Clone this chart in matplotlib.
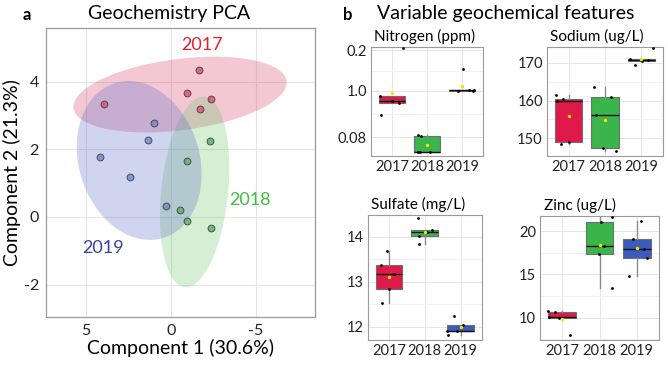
import matplotlib

matplotlib.use("Agg")
import matplotlib.pyplot as plt
import numpy as np

plt.rcParams["font.family"] = ["Lato", "DejaVu Sans"]
plt.rcParams["axes.unicode_minus"] = False

# ---- panel a: PCA scores ----
years = ["2017", "2018", "2019"]
pc1_2017 = [-1.67, -0.92, -2.37, -1.73, 3.92]
pc2_2017 = [4.36, 3.68, 3.50, 3.20, 3.35]
pc1_2018 = [-2.29, -0.92, -0.55, -0.92, -2.33]
pc2_2018 = [2.26, 1.66, 0.21, -0.13, -0.32]
pc1_2019 = [1.02, 1.37, 4.20, 2.41, 0.31]
pc2_2019 = [2.77, 2.29, 1.78, 1.19, 0.31]

# ellipse: centre x, centre y, half-extent x, half-extent y, correlation
ell_2017 = [-0.53, 3.62, 6.27, 1.12, -0.32]
ell_2018 = [-1.39, 0.74, 2.04, 2.82, -0.25]
ell_2019 = [1.87, 1.67, 3.67, 2.35, 0.17]

label_pos_2017 = [-1.8, 5.08]
label_pos_2018 = [-4.65, 0.5]
label_pos_2019 = [4.0, -0.93]

# ---- panel b: per-year measurements (5 samples each) ----
nitrogen_2017 = [0.886, 0.786, 0.743, 0.479, 1.92]
nitrogen_2018 = [0.057, 0.029, -0.307, -0.314, -0.307]
nitrogen_2019 = [0.993, 1.014, 1.0, 1.014, 1.479]
nitrogen_ticks = [0.0, 1.0, 1.871]
nitrogen_ticklabels = ["0.08", "1.0", "0.2"]

sodium_2017 = [161.6, 160.3, 159.9, 148.5, 149.1]
sodium_2018 = [163.6, 160.9, 156.2, 147.3, 146.5]
sodium_2019 = [170.9, 169.4, 170.4, 174.0, 170.8]

sulfate_2017 = [13.67, 13.36, 13.17, 12.83, 12.53]
sulfate_2018 = [14.41, 14.01, 14.11, 14.15, 13.84]
sulfate_2019 = [12.24, 12.04, 11.91, 11.91, 11.81]

zinc_2017 = [10.70, 10.62, 9.96, 10.04, 7.98]
zinc_2018 = [21.63, 21.05, 18.26, 17.36, 13.41]
zinc_2019 = [19.03, 21.16, 17.98, 16.94, 14.84]

# horizontal jitter of the sample dots (category units)
nitrogen_jit = [[-0.33, 0.0, 0.2, -0.31, 0.31], [-0.27, -0.17, -0.27, -0.21, 0.08], [-0.12, 0.19, 0.31, 0.35, 0.03]]
sodium_jit = [[-0.36, -0.16, -0.32, -0.22, 0.0], [-0.30, 0.17, -0.26, -0.06, 0.29], [-0.32, -0.17, 0.02, 0.32, 0.18]]
sulfate_jit = [[-0.05, -0.23, 0.14, 0.01, -0.2], [-0.19, -0.17, 0.07, 0.21, -0.17], [-0.19, 0.07, -0.11, -0.38, -0.36]]
zinc_jit = [[-0.38, -0.2, -0.08, -0.35, 0.22], [0.33, 0.05, 0.13, -0.02, 0.34], [-0.09, 0.11, 0.2, 0.27, -0.2]]

ell_fill = {"2017": "#D43A62", "2018": "#69C669", "2019": "#5869C6"}
pt_fill = {"2017": "#D8557C", "2018": "#63AE6C", "2019": "#7C88CC"}
txt_col = {"2017": "#E3202E", "2018": "#3DBE3D", "2019": "#3B40A8"}
box_col = ["#E0194B", "#3AB54A", "#3B5BBF"]

W, H = 668, 370


def rect(x0, y0, x1, y1):
    return [x0 / W, 1 - y1 / H, (x1 - x0) / W, (y1 - y0) / H]


def ellipse_xy(cx, cy, sx, sy, rho):
    t = np.linspace(0, 2 * np.pi, 200)
    x = cx + sx * np.cos(t)
    y = cy + sy * (rho * np.cos(t) + np.sqrt(1 - rho ** 2) * np.sin(t))
    return x, y


fig = plt.figure(figsize=(W / 100, H / 100), dpi=100)

# ---------------- panel a ----------------
ax = fig.add_axes(rect(46, 28, 315, 317))
groups = [
    ("2017", pc1_2017, pc2_2017, ell_2017, label_pos_2017),
    ("2018", pc1_2018, pc2_2018, ell_2018, label_pos_2018),
    ("2019", pc1_2019, pc2_2019, ell_2019, label_pos_2019),
]
for yr, xs, ys, ell, lp in groups:
    ex, ey = ellipse_xy(*ell)
    ax.fill(ex, ey, color=ell_fill[yr], alpha=0.28, lw=0, zorder=1)
for yr, xs, ys, ell, lp in groups:
    ax.scatter(xs, ys, s=24, color=pt_fill[yr], edgecolor="#3a3a3a", linewidth=0.7, alpha=0.85, zorder=3)
    ax.text(lp[0], lp[1], yr, color=txt_col[yr], fontsize=13, ha="center", va="center", zorder=4)

ax.set_xlim(7.35, -8.47)
ax.set_ylim(-2.96, 5.59)
ax.set_xticks([5, 0, -5])
ax.set_yticks([-2, 0, 2, 4])
ax.grid(color="#E6E6E6", linewidth=0.8, zorder=0)
ax.set_axisbelow(True)
ax.tick_params(labelsize=11.5, length=0, pad=5, colors="#222222")
for sp in ax.spines.values():
    sp.set_color("#9A9A9A")
    sp.set_linewidth(0.9)
ax.set_xlabel("Component 1 (30.6%)", fontsize=14, labelpad=1)
ax.set_ylabel("Component 2 (21.3%)", fontsize=14, labelpad=2)

fig.text(27 / W, 1 - 15 / H, "a", fontsize=12, fontweight="bold", ha="center", va="center")
fig.text(169 / W, 1 - 14 / H, "Geochemistry PCA", fontsize=14, ha="center", va="center")
fig.text(348 / W, 1 - 15 / H, "b", fontsize=12, fontweight="bold", ha="center", va="center")
fig.text(377 / W, 1 - 14 / H, "Variable geochemical features", fontsize=14, ha="left", va="center")


# ---------------- panel b ----------------
def box_panel(r, title, data, jit, ylim, ticks, ticklabels=None, minor=None):
    bx = fig.add_axes(r)
    pos = [1, 2, 3]
    bp = bx.boxplot(data, positions=pos, widths=0.75, patch_artist=True, showfliers=False,
                    showcaps=False, whis=1.5,
                    medianprops=dict(color="#111111", linewidth=1.0),
                    whiskerprops=dict(color="#8A8A8A", linewidth=1.0),
                    boxprops=dict(edgecolor="#6E6E6E", linewidth=0.8))
    for patch, c in zip(bp["boxes"], box_col):
        patch.set_facecolor(c)
    for i, vals in enumerate(data):
        xs = [pos[i] + j for j in jit[i]]
        bx.scatter(xs, vals, s=4, color="black", zorder=4, linewidth=0)
        bx.scatter([pos[i]], [np.mean(vals)], s=6, color="#F4E400", zorder=5, linewidth=0)
    bx.set_xlim(0.4, 3.6)
    bx.set_ylim(*ylim)
    bx.set_xticks(pos)
    bx.set_xticklabels(years)
    bx.set_yticks(ticks)
    if ticklabels is not None:
        bx.set_yticklabels(ticklabels)
    if minor is not None:
        bx.set_yticks(minor, minor=True)
        bx.grid(axis="y", which="minor", color="#F0F0F0", linewidth=0.6)
    bx.grid(which="major", color="#E6E6E6", linewidth=0.7)
    bx.set_axisbelow(True)
    bx.tick_params(labelsize=10.5, length=0, pad=3, colors="#222222")
    bx.tick_params(axis="y", which="minor", length=0)
    for sp in bx.spines.values():
        sp.set_color("#9A9A9A")
        sp.set_linewidth(0.8)
    bx.set_title(title, loc="left", fontsize=11, pad=4, x=0.03)
    return bx


box_panel(rect(371, 47, 483, 156), "Nitrogen (ppm)",
          [nitrogen_2017, nitrogen_2018, nitrogen_2019], nitrogen_jit,
          (-0.4, 1.943), nitrogen_ticks, nitrogen_ticklabels, minor=[0.5, 1.435])
box_panel(rect(547, 47, 663, 156), "Sodium (ug/L)",
          [sodium_2017, sodium_2018, sodium_2019], sodium_jit,
          (145.3, 174.2), [150, 160, 170], minor=[155, 165])
box_panel(rect(367.5, 215, 482, 340), "Sulfate (mg/L)",
          [sulfate_2017, sulfate_2018, sulfate_2019], sulfate_jit,
          (11.70, 14.48), [12, 13, 14], minor=[12.5, 13.5])
box_panel(rect(540, 216, 659, 340), "Zinc (ug/L)",
          [zinc_2017, zinc_2018, zinc_2019], zinc_jit,
          (7.4, 21.74), [10, 15, 20], minor=[7.5, 12.5, 17.5])

fig.savefig("out.png", dpi=100)
